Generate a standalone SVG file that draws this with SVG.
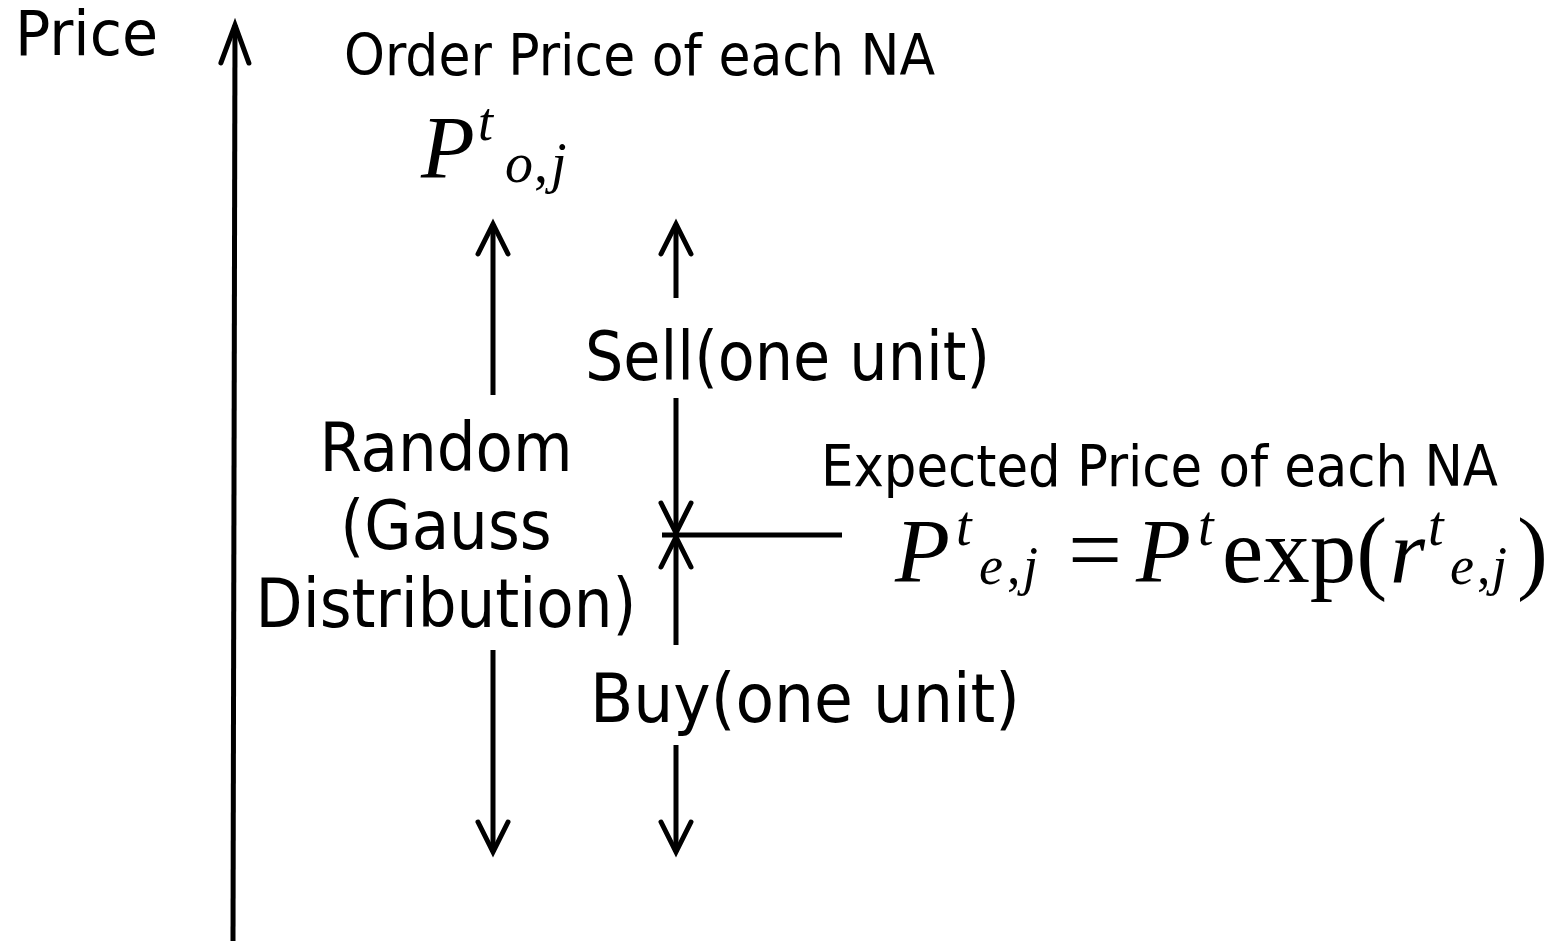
<svg xmlns="http://www.w3.org/2000/svg" width="1558" height="947" viewBox="0 0 1558 947">
  <style>
    .lbl { font-family: 'DejaVu Sans Condensed', 'DejaVu Sans', sans-serif; font-stretch: condensed; fill: #000; }
    .math { font-family: 'Liberation Serif', 'Times New Roman', serif; fill: #000; }
    .it { font-style: italic; }
    .ln { stroke: #000; stroke-width: 5; fill: none; }
  </style>
  <defs>
    <marker id="ah" markerUnits="userSpaceOnUse" orient="auto" refX="0" refY="0" markerWidth="40" markerHeight="40" viewBox="-35 -20 40 40" overflow="visible">
      <path d="M-30,-15 L0,0 L-30,15" fill="none" stroke="#000" stroke-width="5" stroke-linecap="round" stroke-linejoin="miter"/>
    </marker>
    <marker id="ahBig" markerUnits="userSpaceOnUse" orient="auto" refX="0" refY="0" markerWidth="50" markerHeight="50" viewBox="-45 -25 50 50" overflow="visible">
      <path d="M-38,-14 L0,0 L-38,14" fill="none" stroke="#000" stroke-width="5" stroke-linecap="round" stroke-linejoin="miter"/>
    </marker>
  </defs>

  <g id="connectors">
    <line id="price-axis" class="ln" x1="233" y1="941" x2="235" y2="25" marker-end="url(#ahBig)"/>
    <line id="random-up" class="ln" x1="493" y1="395" x2="493" y2="224" marker-end="url(#ah)"/>
    <line id="sell-up" class="ln" x1="676" y1="298" x2="676" y2="224" marker-end="url(#ah)"/>
    <line id="sell-down" class="ln" x1="676" y1="398" x2="676" y2="533" marker-end="url(#ah)"/>
    <line id="expected-link" class="ln" x1="662" y1="535" x2="842" y2="535"/>
    <line id="buy-up" class="ln" x1="676" y1="645" x2="676" y2="537" marker-end="url(#ah)"/>
    <line id="random-down" class="ln" x1="493" y1="650" x2="493" y2="852" marker-end="url(#ah)"/>
    <line id="buy-down" class="ln" x1="676" y1="745" x2="676" y2="852" marker-end="url(#ah)"/>
  </g>

  <g id="price-label">
    <text class="lbl" x="15" y="55" font-size="62" textLength="143" lengthAdjust="spacingAndGlyphs">Price</text>
  </g>

  <g id="order-label">
    <text class="lbl" x="344" y="75" font-size="57" textLength="591" lengthAdjust="spacingAndGlyphs">Order Price of each NA</text>
  </g>

  <g id="order-formula">
    <text class="math it" x="421" y="177" font-size="88">P</text>
    <text class="math it" x="478" y="140" font-size="54">t</text>
    <text class="math it" x="505" y="182" font-size="56">o</text>
    <text class="math" x="534" y="182" font-size="56">,</text>
    <text class="math it" x="551" y="182" font-size="56">j</text>
  </g>

  <g id="sell-label">
    <text class="lbl" x="585" y="380" font-size="68" textLength="405" lengthAdjust="spacingAndGlyphs">Sell(one unit)</text>
  </g>

  <g id="random-label">
    <text class="lbl" x="446" y="471" font-size="68" text-anchor="middle">Random</text>
    <text class="lbl" x="446" y="549" font-size="68" text-anchor="middle">(Gauss</text>
    <text class="lbl" x="446" y="627" font-size="68" text-anchor="middle">Distribution)</text>
  </g>

  <g id="expected-label">
    <text class="lbl" x="821" y="486" font-size="57" textLength="677" lengthAdjust="spacingAndGlyphs">Expected Price of each NA</text>
  </g>

  <g id="expected-formula">
    <text class="math it" x="895" y="582" font-size="90">P</text>
    <text class="math it" x="956" y="545" font-size="56">t</text>
    <text class="math it" x="979" y="584" font-size="54">e</text>
    <text class="math" x="1007" y="584" font-size="54">,</text>
    <text class="math it" x="1023" y="584" font-size="54">j</text>
    <text class="math" x="1068" y="582" font-size="96">=</text>
    <text class="math it" x="1136" y="582" font-size="90">P</text>
    <text class="math it" x="1198" y="545" font-size="56">t</text>
    <text class="math" x="1222" y="582" font-size="93">exp(</text>
    <text class="math it" x="1390" y="582" font-size="90">r</text>
    <text class="math it" x="1428" y="545" font-size="56">t</text>
    <text class="math it" x="1450" y="584" font-size="54">e</text>
    <text class="math" x="1477" y="584" font-size="54">,</text>
    <text class="math it" x="1492" y="584" font-size="54">j</text>
    <text class="math" x="1517" y="582" font-size="93">)</text>
  </g>

  <g id="buy-label">
    <text class="lbl" x="590" y="722" font-size="68" textLength="430" lengthAdjust="spacingAndGlyphs">Buy(one unit)</text>
  </g>
</svg>
